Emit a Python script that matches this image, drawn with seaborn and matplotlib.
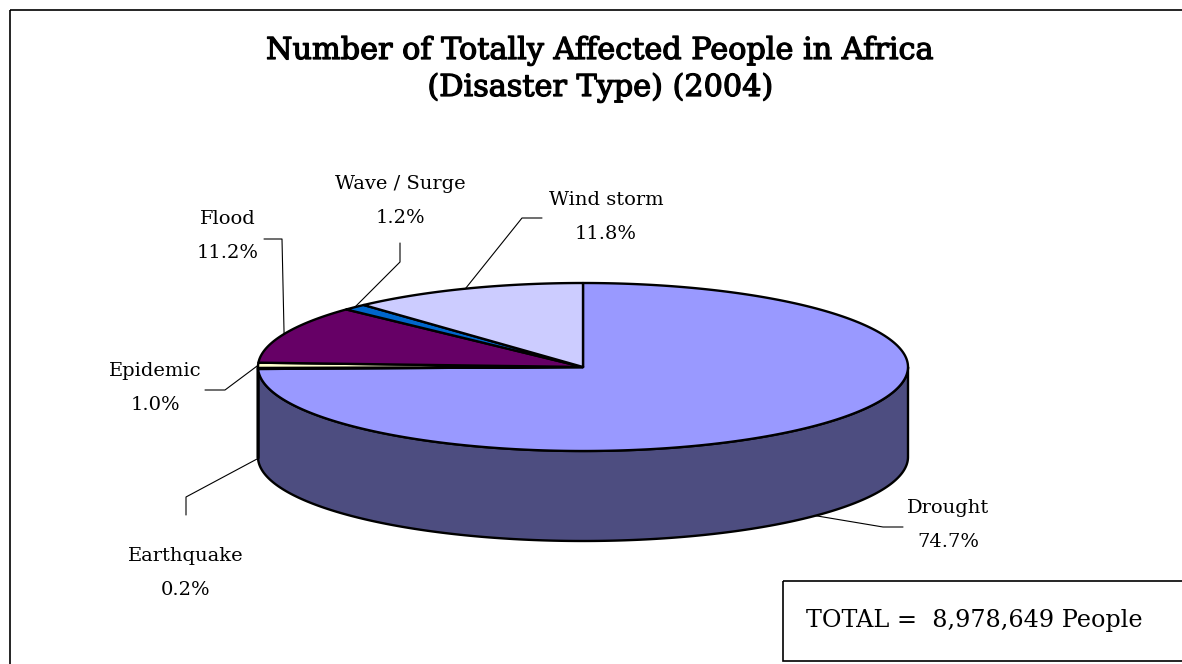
import numpy as np
import matplotlib
matplotlib.use("Agg")
import matplotlib.pyplot as plt
import matplotlib.patheffects as pe
from matplotlib.patches import Polygon, Rectangle
import seaborn as sns

# ---- data ----
categories = ["Drought", "Earthquake", "Epidemic", "Flood", "Wave / Surge", "Wind storm"]
shares = [74.7, 0.2, 1.0, 11.2, 1.2, 11.8]
colors_top = ["#9999FF", "#993366", "#FFFFCC", "#660066", "#0066CC", "#CCCCFF"]
title_lines = ["Number of Totally Affected People in Africa", "(Disaster Type) (2004)"]
total_text = "TOTAL =  8,978,649 People"

# ---- layout (pixel space) ----
W, H = 1182, 664
cx, cy = 583, 367      # pie centre
ra, rb = 325, 84       # ellipse semi-axes
depth = 90             # thickness of the 3D pie

label_pos = {
    "Drought": (948, 508),
    "Earthquake": (186, 556),
    "Epidemic": (155, 371),
    "Flood": (228, 219),
    "Wave / Surge": (400, 184),
    "Wind storm": (606, 200),
}
leader_start = {
    "Drought": [(903, 527), (883, 527)],
    "Earthquake": [(186, 515), (186, 497)],
    "Epidemic": [(205, 390), (225, 390)],
    "Flood": [(264, 239), (282, 239)],
    "Wave / Surge": [(400, 243), (400, 262)],
    "Wind storm": [(542, 218), (522, 218)],
}

sns.set_theme(style="white")
plt.rcParams["font.family"] = ["DejaVu Serif"]

fig = plt.figure(figsize=(W / 100, H / 100), dpi=100)
ax = fig.add_axes([0, 0, 1, 1])
ax.set_xlim(0, W)
ax.set_ylim(H, 0)
ax.axis("off")


def pt(theta_deg, drop=0.0):
    t = np.deg2rad(theta_deg)
    return cx + ra * np.cos(t), cy - rb * np.sin(t) + drop


def darker(hexc, f=0.5):
    r, g, b = matplotlib.colors.to_rgb(hexc)
    return (r * f, g * f, b * f)


# slice angles: start at 12 o'clock, go clockwise
total = sum(shares)
bounds = [90.0]
for s in shares:
    bounds.append(bounds[-1] - 360.0 * s / total)

# ---- side walls (visible front half: angles between -180 and 0) ----
for i, col in enumerate(colors_top):
    a0, a1 = bounds[i + 1], bounds[i]  # a0 < a1
    lo, hi = max(a0, -180.0), min(a1, 0.0)
    if hi <= lo:
        continue
    ts = np.linspace(lo, hi, 200)
    top = [pt(t) for t in ts]
    bot = [pt(t, depth) for t in ts[::-1]]
    ax.add_patch(Polygon(top + bot, closed=True, facecolor=darker(col),
                         edgecolor="black", lw=1.7, joinstyle="round", zorder=2))

# ---- top faces ----
for i, col in enumerate(colors_top):
    ts = np.linspace(bounds[i], bounds[i + 1], 300)
    verts = [(cx, cy)] + [pt(t) for t in ts]
    ax.add_patch(Polygon(verts, closed=True, facecolor=col, edgecolor="black",
                         lw=1.7, joinstyle="round", zorder=3))

# ---- labels and leader lines ----
for i, name in enumerate(categories):
    mid = (bounds[i] + bounds[i + 1]) / 2.0
    m = ((mid + 180) % 360) - 180
    drop = depth if m < 0 else 0.0
    ax_, ay_ = pt(mid, drop)
    (x0, y0), (x1, y1) = leader_start[name]
    ax.plot([x0, x1, ax_], [y0, y1, ay_], color="black", lw=0.8, zorder=4)
    lx, ly = label_pos[name]
    ax.text(lx, ly, name, ha="center", va="center", fontsize=14, color="black")
    ax.text(lx, ly + 34, f"{shares[i]:.1f}%", ha="center", va="center",
            fontsize=14, color="black")

# ---- title ----
for k, line in enumerate(title_lines):
    ax.text(600, 59 + 37 * k, line, ha="center", va="baseline", fontsize=21.8,
            family="DejaVu Serif", color="black",
            path_effects=[pe.withStroke(linewidth=0.9, foreground="black")])

# ---- chart frame and total box ----
ax.add_patch(Rectangle((10, 10), 1300, 800, fill=False, edgecolor="black", lw=1.2, zorder=5))
ax.add_patch(Rectangle((783, 581), 500, 80, fill=False, edgecolor="black", lw=1.2, zorder=5))
ax.text(806, 621, total_text, ha="left", va="center", fontsize=17.2,
        family="DejaVu Serif", color="black")

fig.savefig("out.png", dpi=100)
